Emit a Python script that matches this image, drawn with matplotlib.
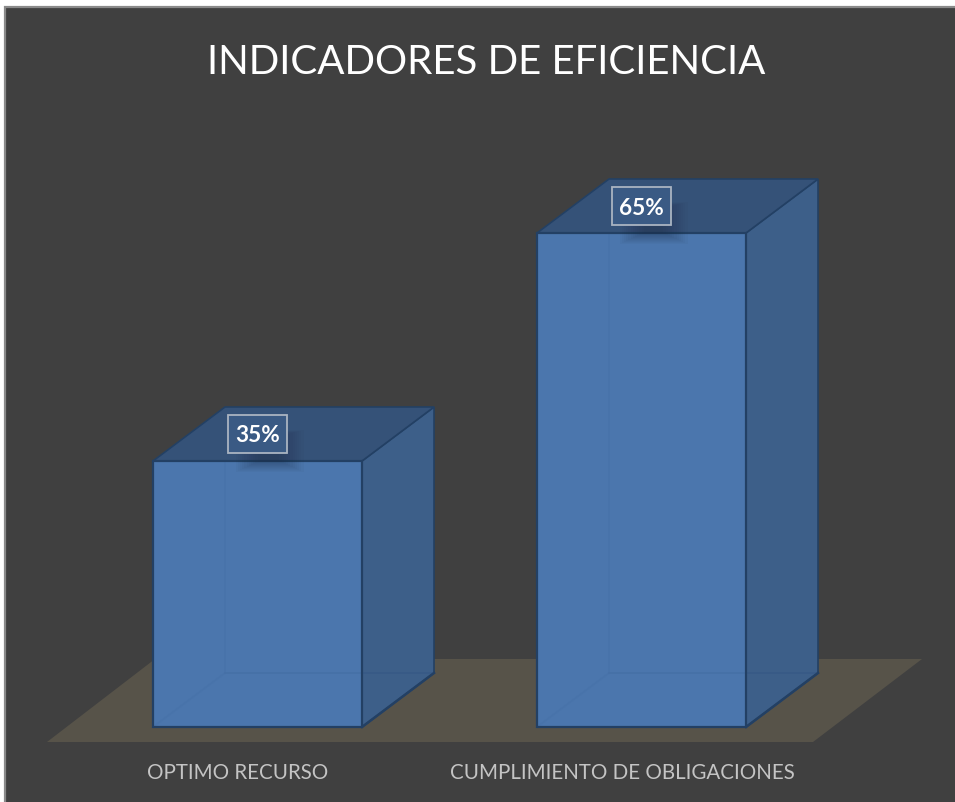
import matplotlib
matplotlib.use("Agg")
import matplotlib.pyplot as plt
from matplotlib.patches import Polygon, Rectangle

categories = ["OPTIMO RECURSO", "CUMPLIMIENTO DE OBLIGACIONES"]
values = [35, 65]
labels = ["35%", "65%"]
title = "INDICADORES DE EFICIENCIA"

W, H = 955, 802
plt.rcParams['font.family'] = ['Lato', 'DejaVu Sans']
fig = plt.figure(figsize=(W / 100, H / 100), dpi=100, facecolor="white")

# page background
bg = fig.add_axes([0, 0, 1, 1]); bg.set_xlim(0, W); bg.set_ylim(H, 0); bg.axis("off")
bg.add_patch(Rectangle((5, 7), W, H, fc="#404040", ec="#8a8a8a", lw=1.6))

# chart axes: x=category index, y=percent
L, R, B, PX = 65.5, 833.5, 727, 7.6
YMAX = 70
ax = fig.add_axes([L / W, (H - B) / H, (R - L) / W, YMAX * PX / H])
ax.set_xlim(-0.5, 1.5); ax.set_ylim(0, YMAX); ax.axis("off"); ax.patch.set_alpha(0)

HW = 104.5 / 384          # half bar width in category units
DX, DY = 72 / 384, 54 / PX  # depth offset
EDGE = "#234064"

# floor
fy0, fy1 = -15 / PX, 68 / PX
ax.add_patch(Polygon([(-0.5 - 18.5 / 384, fy0), (1.5 - 20.5 / 384, fy0),
                      (1.5 + 88.5 / 384, fy1), (-0.5 + 89.5 / 384, fy1)],
                     closed=True, fc="#575349", ec="none", clip_on=False, zorder=1))

for i, v in enumerate(values):
    x0, x1 = i - HW, i + HW
    kw = dict(closed=True, clip_on=False)
    # side
    ax.add_patch(Polygon([(x1, 0), (x1 + DX, DY), (x1 + DX, v + DY), (x1, v)],
                         fc="#3d5f89", ec=EDGE, lw=1.2, zorder=3, **kw))
    ax.plot([x1, x1 + DX], [0, DY], color=EDGE, lw=1.8, zorder=5, clip_on=False)
    ax.plot([x1, x1 + DX], [DY, DY], color="#375a86", lw=1.2, zorder=4, clip_on=False)
    # top
    ax.add_patch(Polygon([(x0, v), (x1, v), (x1 + DX, v + DY), (x0 + DX, v + DY)],
                         fc="#355278", ec=EDGE, lw=1.2, zorder=3, **kw))
    # front
    ax.add_patch(Polygon([(x0, 0), (x1, 0), (x1, v), (x0, v)],
                         fc="#4b76ad", ec="none", zorder=4, **kw))
    # faint back edges seen through the front
    ax.plot([x0, x0 + DX, x0 + DX], [0, DY, v], color="#4873aa", lw=1.2, zorder=4.5, clip_on=False)
    ax.plot([x0 + DX, x1], [DY, DY], color="#4670a6", lw=1.2, zorder=4.5, clip_on=False)
    ax.add_patch(Polygon([(x0, 0), (x1, 0), (x1, v), (x0, v)],
                         fc="none", ec=EDGE, lw=1.6, zorder=5, **kw))
    # soft shadow under the label
    for k in range(12):
        ax.add_patch(Rectangle((i + (12 - 34 + 2.2 * k) / 384, v + (-11 + k) / PX),
                               (68 - 4.4 * k) / 384, (42 - 1.6 * k) / PX,
                               fc="#1c2c44", ec="none", alpha=0.04, zorder=5.5, clip_on=False))
    # data label
    ax.add_patch(Rectangle((i - 29.5 / 384, v + 8 / PX), 59 / 384, 38 / PX, fc="#3a5a84",
                           ec="#aab4c2", lw=1.3, zorder=6, clip_on=False))
    ax.text(i, v + 25 / PX, labels[i], ha="center", va="center", color="white",
            fontsize=16.3, fontweight="bold", zorder=7, clip_on=False)
    # category label
    ax.text(i - 19.5 / 384, -46 / PX, categories[i],
            ha="center", va="center", color="#c4c4c4", fontsize=14.8, clip_on=False)

bg.text(486, 62, title, ha="center", va="center", color="white", fontsize=29)
fig.savefig("out.png", dpi=100, facecolor=fig.get_facecolor())
